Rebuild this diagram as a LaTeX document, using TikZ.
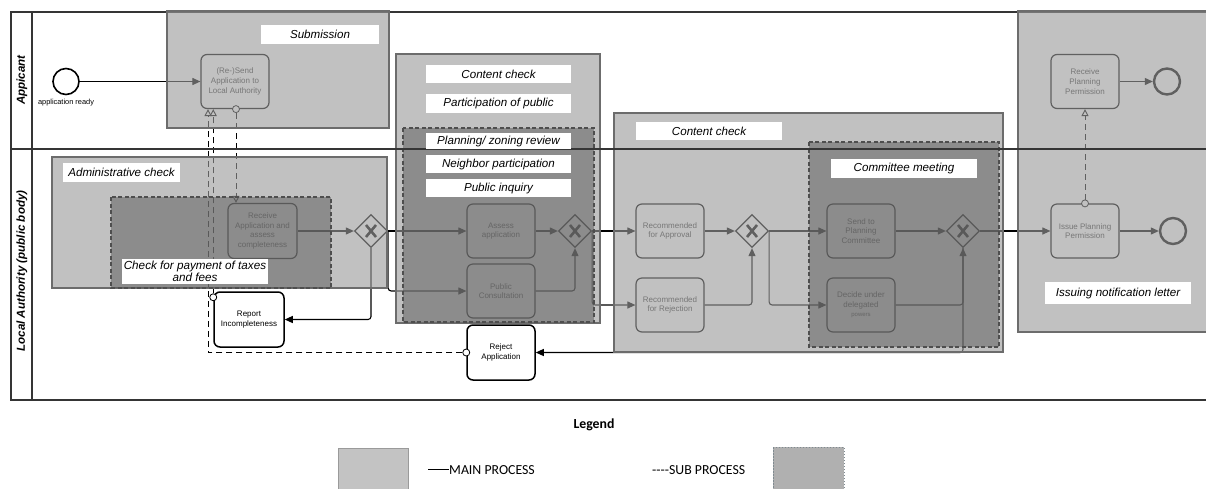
\documentclass[tikz,border=0pt]{standalone}
\usepackage{fontspec}
\setmainfont{Liberation Sans}
\newfontfamily\legendfont{Carlito}
\usetikzlibrary{arrows.meta,shapes.geometric,calc}

\definecolor{poolline}{HTML}{353535}
\definecolor{lightov}{HTML}{9B9B9B}
\definecolor{darkov}{HTML}{535353}
\definecolor{boxedge}{HTML}{6C6C6C}
\definecolor{subedge}{HTML}{4E4E4E}
\definecolor{fadedtext}{HTML}{3C3C3C}
\definecolor{legendlight}{HTML}{C3C3C3}
\definecolor{legenddark}{HTML}{B0B0B0}
\definecolor{legendedge}{HTML}{9A9A9A}
\definecolor{legenddash}{HTML}{7F8A90}

\tikzset{
  pool/.style={draw=poolline, line width=1.3pt},
  lanelabel/.style={rotate=90, font=\fontsize{11.6}{13}\selectfont\bfseries\itshape},
  task/.style={draw=black, line width=1.2pt, rounded corners=6pt, fill=white,
    minimum width=68pt, minimum height=54pt, inner sep=1pt, align=center,
    font=\fontsize{8}{9.7}\selectfont},
  fadedtask/.style={task, text=fadedtext},
  plaintask/.style={task, line width=1.5pt},
  gate/.style={diamond, draw=black, line width=1.3pt, fill=white,
    minimum width=33pt, minimum height=33pt, inner sep=0pt,
    path picture={\draw[line width=2.6pt]
      ($(path picture bounding box.center)+(-5,-6)$) -- ++(10,12)
      ($(path picture bounding box.center)+(5,-6)$) -- ++(-10,12);}},
  startev/.style={circle, draw=black, line width=1.6pt, fill=white, minimum size=26pt, inner sep=0pt},
  endev/.style={circle, draw=black, line width=2.4pt, fill=white, minimum size=26pt, inner sep=0pt},
  flow/.style={line width=1.1pt, rounded corners=3pt, -{Triangle[length=8pt,width=7pt]}},
  msg/.style={line width=0.9pt, dash pattern=on 6pt off 4pt,
    -{Triangle[open,length=7pt,width=7pt,fill=white]}},
  msgdot/.style={circle, draw=black, line width=0.8pt, fill=white, minimum size=7pt, inner sep=0pt},
  lightbox/.style={fill=lightov, fill opacity=0.62, draw=boxedge, line width=1.5pt},
  darkbox/.style={fill=darkov, fill opacity=0.48, draw=subedge, line width=1.4pt, dash pattern=on 4pt off 2.5pt},
  lbl/.style={fill=white, inner sep=0pt, align=center, font=\fontsize{11.6}{12.6}\selectfont\itshape},
  legendtext/.style={font=\legendfont\fontsize{13.8}{15}\selectfont, inner sep=0pt}
}

\begin{document}
\begin{tikzpicture}[x=1pt, y=-1pt]
\useasboundingbox (0,0) rectangle (1206,488);
\clip (0,0) rectangle (1206,488);
\fill[white] (0,0) rectangle (1206,488);

% pool frame and lane label column
\draw[pool] (1215,12) -- (11,12) -- (11,400) -- (1215,400);
\draw[pool] (32,12) -- (32,400);
\node[lanelabel] (laneA) at (22,80) {Appicant};
\node[lanelabel] (laneB) at (22,271) {Local Authority (public body)};

% events and tasks
\node[startev] (start) at (66,81.5) {};
\node[font=\fontsize{7.4}{8}\selectfont, inner sep=0pt] (startlbl) at (66,103) {application ready};
\node[fadedtask] (resend) at (235,81.5) {(Re-)Send\\Application to\\Local Authority};
\node[fadedtask, minimum width=69pt, minimum height=55pt] (receive) at (262.5,231) {Receive\\Application and\\assess\\completeness};
\node[gate] (g1) at (371,231) {};
\node[plaintask, minimum width=70pt, minimum height=55pt] (report) at (249,319.5) {Report\\Incompleteness};
\node[fadedtask] (assess) at (501,231) {Assess\\application};
\node[fadedtask] (pubcons) at (501,291) {Public\\Consultation};
\node[gate] (g2) at (575,231) {};
\node[fadedtask] (recapp) at (670,231) {Recommended\\for Approval};
\node[fadedtask] (recrej) at (670,305) {Recommended\\for Rejection};
\node[gate] (g3) at (752,231) {};
\node[fadedtask] (sendpc) at (861,231) {Send to\\Planning\\Committee};
\node[fadedtask] (decide) at (861,305) {Decide under\\delegated\\{\fontsize{6}{7}\selectfont powers}};
\node[gate] (g4) at (963,231) {};
\node[plaintask, minimum height=55pt] (reject) at (501,352.5) {Reject\\Application};
\node[fadedtask] (issue) at (1085,231) {Issue Planning\\Permission};
\node[endev] (end2) at (1173,231) {};
\node[fadedtask] (recvpp) at (1085,81.5) {Receive\\Planning\\Permission};
\node[endev] (end1) at (1167,81.5) {};

% sequence flows
\draw[flow] (start) -- (resend);
\draw[flow] (receive) -- (g1);
\draw[flow] (g1.south) |- (report.east);
\draw[flow] (g1.east) -- (assess.west);
\draw[flow] (g1.east) |- (pubcons.west);
\draw[flow] (assess) -- (g2);
\draw[flow] (pubcons.east) -| (g2.south);
\draw[flow] (g2.east) -- (recapp.west);
\draw[flow] (g2.east) |- (recrej.west);
\draw[flow] (recapp) -- (g3);
\draw[flow] (recrej.east) -| (g3.south);
\draw[flow] (g3.east) -- (sendpc.west);
\draw[flow] (g3.east) |- (decide.west);
\draw[flow] (sendpc) -- (g4);
\draw[flow] (decide.east) -| (g4.south);
\draw[flow] (g4.south) |- (reject.east);
\draw[flow] (g4.east) -- (issue.west);
\draw[flow] (issue) -- (end2);
\draw[flow] (recvpp) -- (end1);

% message flows
\node[msgdot] (m1) at ([xshift=1pt]resend.south) {};
\node[msgdot] (m2) at ([yshift=-6pt]report.north west) {};
\node[msgdot] (m3) at (reject.west) {};
\node[msgdot] (m4) at (issue.north) {};
\draw[msg] (m1.south) -- (m1.south |- receive.north);
\draw[msg] (m2.north) -- (m2.north |- resend.south);
\draw[msg] (m3.west) -| ([xshift=-27pt]resend.south);
\draw[msg] (m4.north) -- (recvpp.south);

% main process regions
\draw[lightbox] (167,11) rectangle (389,128);
\draw[lightbox] (52,157) rectangle (387,288);
\draw[lightbox] (396,54) rectangle (600,323);
\draw[lightbox] (614,113) rectangle (1003,352);
\draw[lightbox] (1018,11) rectangle (1220,332);

% sub process regions
\draw[darkbox] (111,197) rectangle (331,288);
\draw[darkbox] (403,128) rectangle (594,322);
\draw[darkbox] (809,142) rectangle (999,347);

% lane separator
\draw[pool] (11,149) -- (1215,149);

% region labels
\node[lbl, minimum width=118pt, minimum height=19pt] (lsub) at (320,34.5) {Submission};
\node[lbl, minimum width=117pt, minimum height=19pt] (ladm) at (121.5,172.5) {Administrative check};
\node[lbl, minimum width=146pt, minimum height=25pt, font=\fontsize{11.7}{12.5}\selectfont\itshape] (lpay) at (195,271.5) {Check for payment of taxes\\and fees};
\node[lbl, minimum width=145pt, minimum height=18pt] (lcc1) at (498.5,74) {Content check};
\node[lbl, minimum width=145pt, minimum height=19pt] (lpart) at (498.5,103.5) {Participation of public};
\node[lbl, minimum width=145pt, minimum height=16pt] (lplan) at (498.5,141) {Planning/ zoning review};
\node[lbl, minimum width=145pt, minimum height=18pt] (lneigh) at (498.5,164) {Neighbor participation};
\node[lbl, minimum width=145pt, minimum height=18pt] (linq) at (498.5,188) {Public inquiry};
\node[lbl, minimum width=146pt, minimum height=18pt] (lcc2) at (709,131) {Content check};
\node[lbl, minimum width=146pt, minimum height=19pt] (lcom) at (904,168.5) {Committee meeting};
\node[lbl, minimum width=146pt, minimum height=22pt] (liss) at (1118,293) {Issuing notification letter};

% legend
\node[legendtext, font=\legendfont\bfseries\fontsize{13.8}{15}\selectfont] (legend) at (594,425) {Legend};
\draw[fill=legendlight, draw=legendedge, line width=0.8pt] (338,448) rectangle (408,495);
\node[legendtext, anchor=west] (mainproc) at (428,470) {\rule[4pt]{21pt}{1.3pt}MAIN PROCESS};
\node[legendtext, anchor=west] (subproc) at (652,470) {-{}-{}-{}-SUB PROCESS};
\draw[fill=legenddark, draw=legenddash, line width=0.8pt, dash pattern=on 1.5pt off 1.5pt] (773,447) rectangle (844,495);
\end{tikzpicture}
\end{document}
